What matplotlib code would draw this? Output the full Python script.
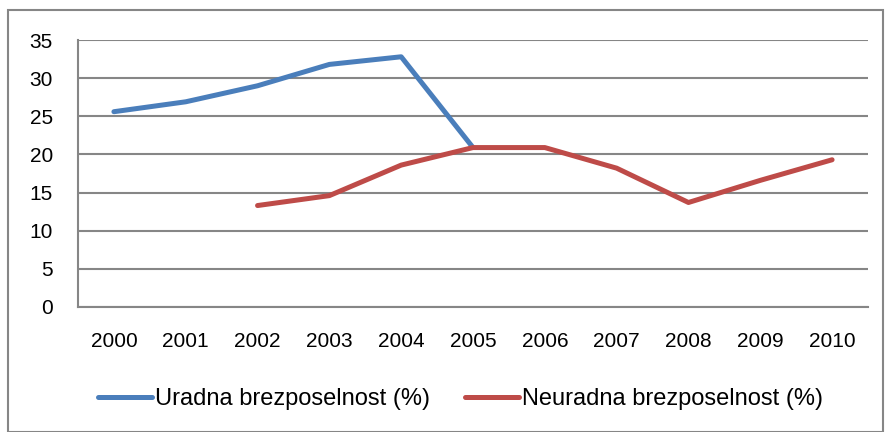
import matplotlib.pyplot as plt
import numpy as np
from matplotlib.patches import Rectangle

plt.rcParams['font.family'] = ['Liberation Sans', 'DejaVu Sans']

years = ['2000', '2001', '2002', '2003', '2004', '2005', '2006', '2007', '2008', '2009', '2010']
uradna = [25.6, 26.9, 29.0, 31.8, 32.8, 20.9, np.nan, np.nan, np.nan, np.nan, np.nan]
neuradna = [np.nan, np.nan, 13.3, 14.6, 18.6, 20.9, 20.9, 18.2, 13.7, 16.6, 19.3]

fig = plt.figure(figsize=(8.86, 4.32), dpi=100)
ax = fig.add_axes([78/886, 1 - 307/432, (868-78)/886, (307-40)/432])

x = np.arange(len(years))
ax.plot(x, uradna, color='#4A7EBB', lw=3.6, solid_capstyle='round', label='Uradna brezposelnost (%)')
ax.plot(x, neuradna, color='#BE4B48', lw=3.6, solid_capstyle='round', label='Neuradna brezposelnost (%)')

ax.set_xlim(-0.5, len(years) - 0.5)
ax.set_ylim(0, 35)
ax.set_yticks(range(0, 36, 5))
ax.set_xticks(x)
ax.set_xticklabels(years)
ax.grid(axis='y', color='#868686', lw=1.5)
ax.set_axisbelow(True)
ax.tick_params(length=0, labelsize=15, colors='black')
ax.tick_params(axis='x', pad=18)
ax.tick_params(axis='y', pad=18)
for s in ['top', 'right']:
    ax.spines[s].set_visible(False)
for s in ['left', 'bottom']:
    ax.spines[s].set_color('#868686')
    ax.spines[s].set_linewidth(1.5)

ax.legend(loc='center', bbox_to_anchor=(0.484, -0.345), ncol=2, frameon=False,
          fontsize=17, handlelength=2.3, handletextpad=0.12, columnspacing=1.5)

fig.patches.append(Rectangle((8/886, 0), (883-8)/886, 1 - 10/432, transform=fig.transFigure,
                             fill=False, edgecolor='#868686', lw=1.5))

fig.savefig('out.png', dpi=100)
